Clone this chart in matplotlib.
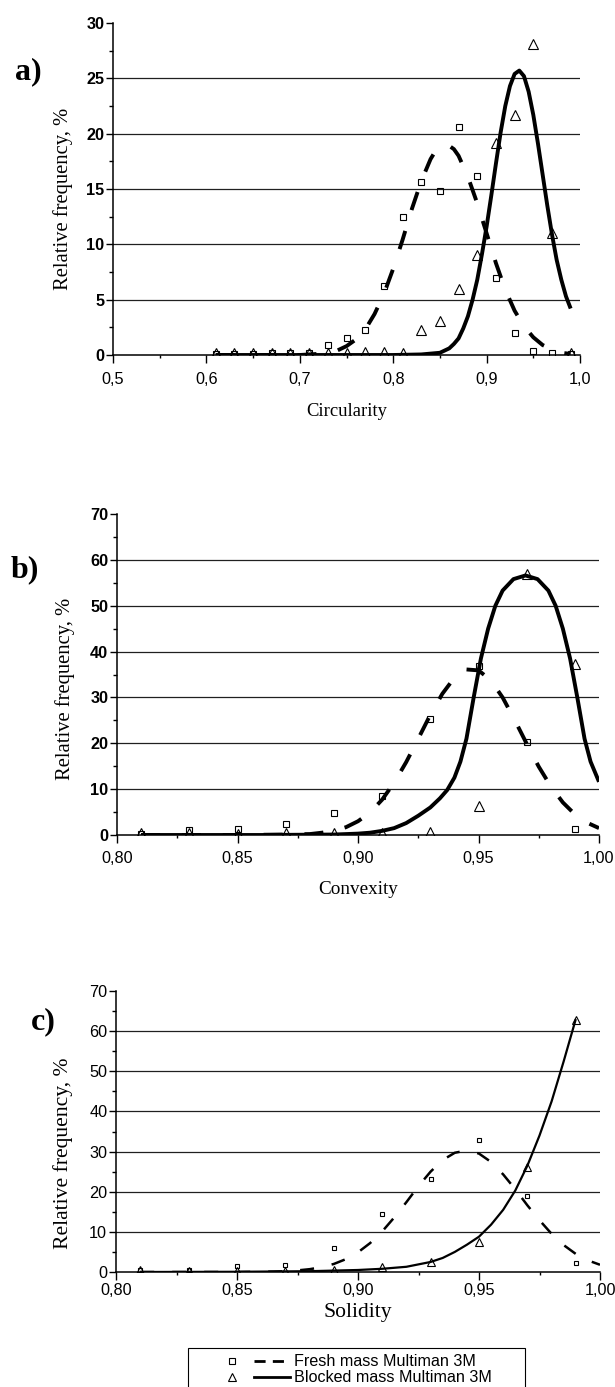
import matplotlib
matplotlib.use("Agg")
import matplotlib.pyplot as plt
from matplotlib.ticker import MultipleLocator, FuncFormatter
from matplotlib.lines import Line2D
from matplotlib.legend_handler import HandlerBase

SANS = "Liberation Sans"
SERIF = "Liberation Serif"
plt.rcParams["font.family"] = SANS

# ---- a) circularity: measured points
circ_x = [0.61, 0.63, 0.65, 0.67, 0.69, 0.71, 0.73, 0.75, 0.77, 0.79,
          0.81, 0.83, 0.85, 0.87, 0.89, 0.91, 0.93, 0.95, 0.97, 0.99]
circ_fresh = [0.1, 0.1, 0.1, 0.2, 0.2, 0.2, 0.9, 1.5, 2.3, 6.2,
              12.5, 15.6, 14.8, 20.6, 16.2, 7.0, 2.0, 0.4, 0.2, 0.1]
circ_blocked = [0.2, 0.2, 0.2, 0.2, 0.2, 0.2, 0.2, 0.2, 0.3, 0.3,
                0.2, 2.3, 3.1, 6.0, 9.0, 19.2, 21.7, 28.1, 11.0, 0.2]
# fitted curves
circ_fit_fresh_x = [0.61, 0.65, 0.70, 0.72, 0.73, 0.74, 0.75, 0.76, 0.77, 0.78,
                    0.79, 0.80, 0.81, 0.82, 0.83, 0.84, 0.845, 0.85, 0.855, 0.86,
                    0.865, 0.87, 0.88, 0.89, 0.90, 0.91, 0.92, 0.93, 0.94, 0.95,
                    0.96, 0.97, 0.98, 0.99]
circ_fit_fresh_y = [0.0, 0.0, 0.0, 0.1, 0.2, 0.4, 0.8, 1.4, 2.3, 3.7,
                    5.5, 7.8, 10.4, 13.2, 15.7, 17.7, 18.4, 18.8, 19.0, 18.9,
                    18.6, 18.0, 16.1, 13.7, 11.0, 8.3, 5.9, 4.0, 2.6, 1.6,
                    0.9, 0.5, 0.2, 0.1]
circ_fit_blocked_x = [0.61, 0.70, 0.80, 0.83, 0.85, 0.86, 0.865, 0.87, 0.875, 0.88,
                      0.885, 0.89, 0.895, 0.90, 0.905, 0.91, 0.915, 0.92, 0.925, 0.93,
                      0.935, 0.94, 0.945, 0.95, 0.955, 0.96, 0.965, 0.97, 0.975, 0.98,
                      0.985, 0.99]
circ_fit_blocked_y = [0.0, 0.0, 0.0, 0.05, 0.2, 0.6, 1.0, 1.5, 2.4, 3.5,
                      5.0, 6.8, 9.1, 11.6, 14.4, 17.3, 20.1, 22.5, 24.3, 25.4,
                      25.7, 25.2, 23.8, 21.7, 19.1, 16.3, 13.5, 10.9, 8.6, 6.8,
                      5.3, 4.2]

# ---- b) convexity
conv_x = [0.81, 0.83, 0.85, 0.87, 0.89, 0.91, 0.93, 0.95, 0.97, 0.99]
conv_fresh = [0.3, 1.0, 1.4, 2.4, 4.7, 8.4, 25.4, 36.9, 20.3, 1.2]
conv_blocked = [0.4, 0.5, 0.3, 0.4, 0.4, 0.5, 0.6, 6.3, 56.9, 37.2]
conv_fit_fresh_x = [0.81, 0.85, 0.87, 0.88, 0.885, 0.89, 0.895, 0.90, 0.905, 0.91,
                    0.915, 0.92, 0.925, 0.93, 0.935, 0.94, 0.945, 0.95, 0.955, 0.96,
                    0.965, 0.97, 0.975, 0.98, 0.985, 0.99, 0.995, 1.00]
conv_fit_fresh_y = [0.0, 0.0, 0.1, 0.2, 0.5, 0.9, 1.7, 3.0, 4.9, 7.7,
                    11.4, 15.9, 21.0, 26.2, 30.8, 34.3, 36.1, 35.9, 33.8, 30.0,
                    25.1, 19.9, 14.9, 10.6, 7.1, 4.5, 2.7, 1.5]
conv_fit_blocked_x = [0.81, 0.86, 0.89, 0.90, 0.905, 0.91, 0.915, 0.92, 0.925, 0.93,
                      0.934, 0.937, 0.94, 0.9425, 0.945, 0.948, 0.951, 0.954, 0.957, 0.96,
                      0.9645, 0.9695, 0.9745, 0.979, 0.982, 0.985, 0.988, 0.991, 0.994, 0.9965,
                      1.00]
conv_fit_blocked_y = [0.0, 0.0, 0.1, 0.3, 0.5, 0.9, 1.5, 2.6, 4.2, 6.0,
                      8.0, 9.8, 12.5, 16.0, 21.0, 30.0, 38.5, 45.0, 50.0, 53.3,
                      55.8, 56.6, 55.8, 53.3, 50.0, 45.0, 38.5, 30.0, 21.0, 16.0,
                      11.6]

# ---- c) solidity
sol_x = [0.81, 0.83, 0.85, 0.87, 0.89, 0.91, 0.93, 0.95, 0.97, 0.99]
sol_fresh = [0.4, 0.6, 1.4, 1.7, 6.1, 14.4, 23.2, 33.0, 19.0, 2.3]
sol_blocked = [0.5, 0.3, 0.2, 0.3, 0.5, 1.3, 2.6, 7.5, 26.2, 62.9]
sol_fit_fresh_x = [0.81, 0.85, 0.865, 0.87, 0.875, 0.88, 0.885, 0.89, 0.895, 0.90,
                   0.905, 0.91, 0.915, 0.92, 0.925, 0.93, 0.935, 0.94, 0.945, 0.95,
                   0.955, 0.96, 0.965, 0.97, 0.975, 0.98, 0.985, 0.99, 0.995, 1.00]
sol_fit_fresh_y = [0.0, 0.0, 0.1, 0.2, 0.4, 0.7, 1.2, 2.0, 3.2, 4.9,
                   7.2, 10.1, 13.6, 17.4, 21.4, 25.0, 27.9, 29.7, 30.3, 29.5,
                   27.4, 24.3, 20.6, 16.6, 12.9, 9.5, 6.7, 4.5, 2.9, 1.8]
sol_fit_blocked_x = [0.81, 0.85, 0.88, 0.90, 0.91, 0.92, 0.93, 0.935, 0.94, 0.945,
                     0.95, 0.955, 0.96, 0.965, 0.97, 0.975, 0.98, 0.985, 0.99]
sol_fit_blocked_y = [0.0, 0.05, 0.2, 0.5, 0.8, 1.3, 2.5, 3.5, 5.0, 6.8,
                     8.8, 11.8, 15.5, 20.3, 26.5, 34.0, 42.5, 52.5, 63.0]

YLABEL = "Relative frequency, %"
LEGEND_LABELS = ["Fresh mass Multiman 3M", "Blocked mass Multiman 3M"]

W, H = 615, 1387
fig = plt.figure(figsize=(W / 100, H / 100), dpi=100)


def frect(left, top, right, bottom):
    return [left / W, 1 - bottom / H, (right - left) / W, (bottom - top) / H]


def panel(rect, x, fresh, blocked, ffx, ffy, fbx, fby, xlim, xmaj, ymax, ymaj,
          ndec, st):
    ax = fig.add_axes(rect)
    for v in range(ymaj, ymax, ymaj):
        ax.axhline(v, color="#202020", lw=0.9, zorder=0)
    ax.plot(ffx, ffy, color="black", lw=st["lw_d"], dashes=st["dash"],
            dash_capstyle="butt", zorder=3)
    ax.plot(fbx, fby, color="black", lw=st["lw_s"], zorder=3,
            solid_capstyle="butt")
    ax.plot(x, fresh, ls="none", marker="s", ms=st["ms_s"], mfc="none",
            mec="black", mew=0.8, zorder=4)
    ax.plot(x, blocked, ls="none", marker="^", ms=st["ms_t"], mfc="none",
            mec="black", mew=0.8, zorder=4)
    ax.set_xlim(*xlim)
    ax.set_ylim(0, ymax)
    ax.xaxis.set_major_locator(MultipleLocator(xmaj))
    ax.xaxis.set_minor_locator(MultipleLocator(xmaj / 2))
    ax.yaxis.set_major_locator(MultipleLocator(ymaj))
    ax.yaxis.set_minor_locator(MultipleLocator(ymaj / 2))
    ax.xaxis.set_major_formatter(
        FuncFormatter(lambda v, p: f"{v:.{ndec}f}".replace(".", ",")))
    ax.yaxis.set_major_formatter(FuncFormatter(lambda v, p: f"{v:.0f}"))
    for s in ("top", "right"):
        ax.spines[s].set_visible(False)
    for s in ("left", "bottom"):
        ax.spines[s].set_linewidth(1.1)
    ax.tick_params(axis="y", which="major", direction="out", length=4.8,
                   width=1, pad=1.5, labelsize=11.7)
    ax.tick_params(axis="y", which="minor", direction="out", length=2.8, width=1)
    ax.tick_params(axis="x", which="major", direction="out", length=5.6,
                   width=1, pad=st["xpad"], labelsize=11.7)
    ax.tick_params(axis="x", which="minor", direction="out", length=2.5, width=1)
    for t in ax.get_yticklabels():
        t.set_fontweight(st["yweight"])
    return ax


style_ab = dict(lw_s=2.8, lw_d=2.8, dash=(4.9, 5.6), ms_s=4.4, ms_t=7.0,
                xpad=6.3, yweight="bold")

panel(frect(113, 23, 580, 355), circ_x, circ_fresh, circ_blocked,
      circ_fit_fresh_x, circ_fit_fresh_y, circ_fit_blocked_x, circ_fit_blocked_y,
      (0.5, 1.0), 0.1, 30, 5, 1, style_ab)
panel(frect(117, 514, 599, 835), conv_x, conv_fresh, conv_blocked,
      conv_fit_fresh_x, conv_fit_fresh_y, conv_fit_blocked_x, conv_fit_blocked_y,
      (0.8, 1.0), 0.05, 70, 10, 2, dict(style_ab, ms_s=4.4, ms_t=7.0, xpad=5.6))
panel(frect(116, 991, 600, 1272), sol_x, sol_fresh, sol_blocked,
      sol_fit_fresh_x, sol_fit_fresh_y, sol_fit_blocked_x, sol_fit_blocked_y,
      (0.8, 1.0), 0.05, 70, 10, 2,
      dict(lw_s=1.6, lw_d=1.8, dash=(5.6, 7.2), ms_s=3.2, ms_t=5.2, xpad=2.2,
           yweight="normal"))


def ftext(x, y, s, **kw):
    fig.text(x / W, 1 - y / H, s, ha="center", va="center", **kw)


# panel letters
ftext(28, 72, "a)", family=SERIF, weight="bold", size=23)
ftext(25, 570, "b)", family=SERIF, weight="bold", size=23)
ftext(43, 1022, "c)", family=SERIF, weight="bold", size=23)

# axis titles
ftext(63, 199, YLABEL, family=SERIF, size=14.9, rotation=90)
ftext(65, 689, YLABEL, family=SERIF, size=14.9, rotation=90)
ftext(63, 1153, YLABEL, family=SERIF, size=15.6, rotation=90)
ftext(347, 411, "Circularity", family=SERIF, size=13.4)
ftext(358, 889, "Convexity", family=SERIF, size=13.8)
ftext(358, 1313, "Solidity", family=SERIF, size=15.6)


class MarkerThenLine(HandlerBase):
    def create_artists(self, legend, orig_handle, xdescent, ydescent,
                       width, height, fontsize, trans):
        mk, ln = orig_handle
        y = height / 2 - ydescent
        m = Line2D([-xdescent + 0.39 * width], [y], ls="none",
                   marker=mk.get_marker(), ms=mk.get_markersize(),
                   mfc="none", mec="black", mew=0.8, transform=trans)
        l = Line2D([-xdescent + 0.627 * width, -xdescent + width], [y, y],
                   color="black", lw=ln.get_linewidth(),
                   ls=ln.get_linestyle(), transform=trans)
        if ln.get_linestyle() == "--":
            l.set_dashes((4.0, 2.6))
        l.set_dash_capstyle("butt")
        return [m, l]


h_fresh = (Line2D([], [], marker="s", ms=4.4), Line2D([], [], ls="--", lw=2.0))
h_blocked = (Line2D([], [], marker="^", ms=6.0), Line2D([], [], ls="-", lw=2.0))
leg_h = 60 / H
leg = fig.legend([h_fresh, h_blocked], LEGEND_LABELS,
                 handler_map={tuple: MarkerThenLine()},
                 loc="upper left",
                 bbox_to_anchor=(188 / W, 1 - 1348 / H - leg_h, 337 / W, leg_h),
                 mode="expand",
                 borderaxespad=0, borderpad=0.4, handlelength=5.9,
                 handletextpad=0.3, labelspacing=0.05, fancybox=False,
                 framealpha=1, edgecolor="black", fontsize=11.6)
leg.get_frame().set_linewidth(0.8)

fig.savefig("out.png", dpi=100)
